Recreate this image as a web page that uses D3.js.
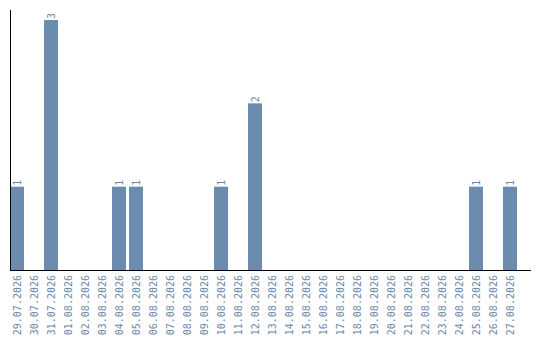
<!DOCTYPE html>
<html>
<head>
<meta charset="utf-8">
<script src="https://cdn.jsdelivr.net/npm/d3@7"></script>
<style>
  html, body { margin: 0; padding: 0; background: #fff; }
  svg { display: block; }
</style>
</head>
<body>
<svg id="chart" width="540" height="340"></svg>
<script>
// Daily counts, 29.07.2026 – 27.08.2026
const dates = [
  "29.07.2026", "30.07.2026", "31.07.2026", "01.08.2026", "02.08.2026",
  "03.08.2026", "04.08.2026", "05.08.2026", "06.08.2026", "07.08.2026",
  "08.08.2026", "09.08.2026", "10.08.2026", "11.08.2026", "12.08.2026",
  "13.08.2026", "14.08.2026", "15.08.2026", "16.08.2026", "17.08.2026",
  "18.08.2026", "19.08.2026", "20.08.2026", "21.08.2026", "22.08.2026",
  "23.08.2026", "24.08.2026", "25.08.2026", "26.08.2026", "27.08.2026"
];
const counts = [
  1, 0, 3, 0, 0,
  0, 1, 1, 0, 0,
  0, 0, 1, 0, 2,
  0, 0, 0, 0, 0,
  0, 0, 0, 0, 0,
  0, 0, 1, 0, 1
];

const barColor = "#6b8cae";
const textColor = "#6a88a8";
const font = "DejaVu Sans Mono, monospace";

const svg = d3.select("#chart");
const plotLeft = 10, plotTop = 20, baseline = 270;

const x = d3.scaleBand()
  .domain(dates)
  .range([plotLeft, 517])
  .paddingInner(3 / 17)
  .paddingOuter(0);

const y = d3.scaleLinear()
  .domain([0, 3])
  .range([baseline, plotTop]);

const rows = dates.map((d, i) => ({ date: d, value: counts[i] }));

// bars
svg.append("g")
  .selectAll("rect")
  .data(rows.filter(r => r.value > 0))
  .join("rect")
  .attr("x", r => x(r.date))
  .attr("y", r => y(r.value))
  .attr("width", x.bandwidth())
  .attr("height", r => y(0) - y(r.value))
  .attr("fill", barColor);

// value labels above bars
svg.append("g")
  .selectAll("text")
  .data(rows.filter(r => r.value > 0))
  .join("text")
  .attr("transform", r => `translate(${x(r.date) + x.bandwidth() / 2 + 3.5},${y(r.value) - 1}) rotate(-90)`)
  .attr("text-anchor", "start")
  .attr("font-family", font)
  .attr("font-size", 10)
  .attr("fill", textColor)
  .text(r => r.value);

// x axis
const xAxis = svg.append("g")
  .attr("transform", `translate(0,${baseline})`)
  .call(d3.axisBottom(x).tickSize(0).tickPadding(0));
xAxis.select(".domain").remove();
xAxis.append("line")
  .attr("x1", plotLeft).attr("x2", 531)
  .attr("y1", 0.5).attr("y2", 0.5)
  .attr("stroke", "#000").attr("stroke-width", 1);
xAxis.selectAll(".tick text")
  .attr("transform", "translate(3.5,5) rotate(-90)")
  .attr("text-anchor", "end")
  .attr("x", 0).attr("y", 0).attr("dy", 0)
  .attr("font-family", font)
  .attr("font-size", 10)
  .attr("fill", textColor);

// y axis line
svg.append("line")
  .attr("x1", plotLeft + 0.5).attr("x2", plotLeft + 0.5)
  .attr("y1", 10).attr("y2", baseline)
  .attr("stroke", "#000").attr("stroke-width", 1);
</script>
</body>
</html>
